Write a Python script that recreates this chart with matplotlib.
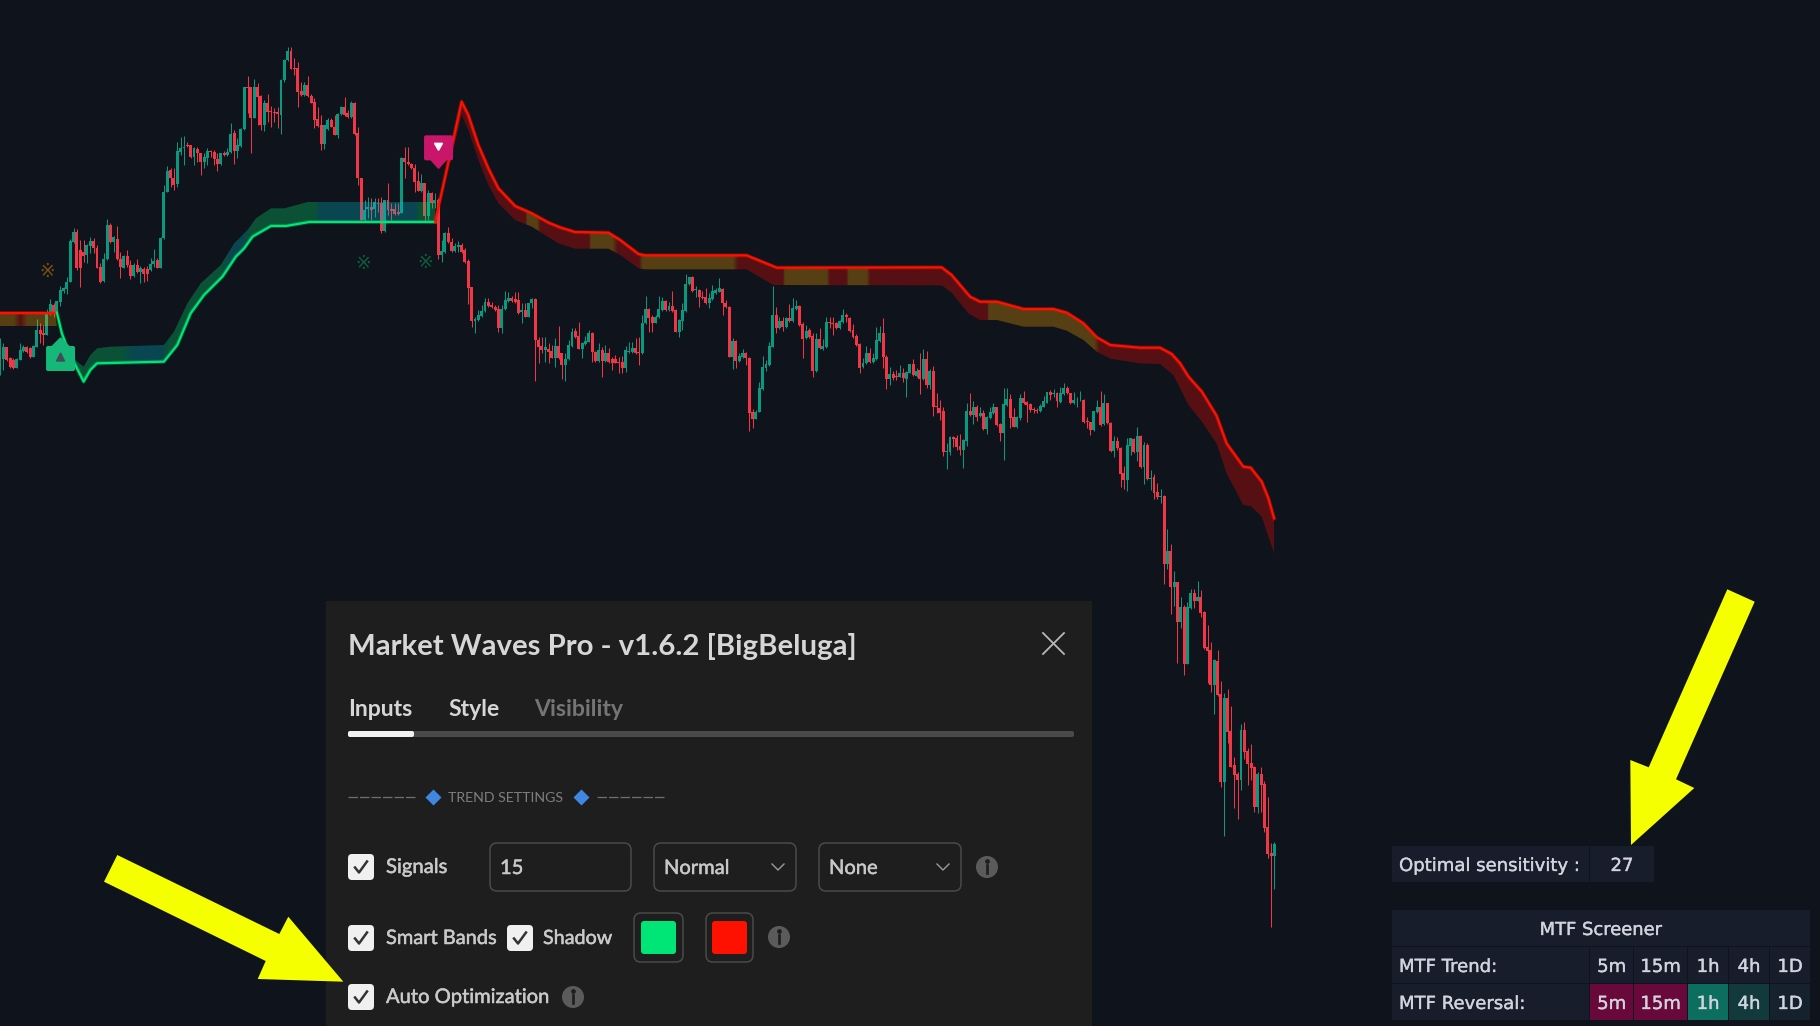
import numpy as np
import matplotlib
matplotlib.use("Agg")
import matplotlib.pyplot as plt
import matplotlib.patheffects as pe
from matplotlib.patches import Polygon, FancyBboxPatch, Rectangle, Circle

BG = "#0f131c"
UP = "#089981"
DOWN = "#f23645"
BAR_PX = 3.345   # width of one bar on screen
LEVEL_PX = 1 / 3  # levels were read at 3x zoom, counted from the top of the picture

# candles: G = rising, R = falling. levels grow downwards
sides = (
    "GGRRRGGGRR" "GGRRGGRGGG" "GGGRRRGGRR" "RGGRGRRGRR" "GRGRRGGRGG"
    "GRRGGGRRGR" "RGGRRRGRGG" "RGGGRRGRRG" "RRRRGGGRRR" "RGRRRRRGGR"
    "RGGRRGRRRG" "GRGRRGRRRR" "GRRRRRGRGR" "GRGGRRGGRR" "RRGGGGRRRR"
    "GGGRRRGRGG" "RRRGRRGRRG" "GGRRGGGRRG" "RGRRRRRGGG" "RRGGRRGGGR"
    "GRRGGGGRGR" "RRGGGGRRRG" "RGGRRRGGGG" "GGRGRGRGGR" "RGRRGRGGRR"
    "RGGRRRRRGG" "RGGG"
    "RRGRRGRGGR" "GRGRGRRRRG" "GRRRGGRGRG" "RGGGRRGGRR" "GGRRRRRGGG"
    "RGRGGRRGGG" "RRRGGRGRRG" "RRRGGRGRGR" "GRRG"
    "RGRGRGRGGR" "GRRRRGRRGR" "RRRGRRRRGR" "RRRG"
)
tops = [
    1040, 1040, 1040, 1075, 1080, 1078, 1050, 1040, 1042, 1045,
    1038, 990, 990, 1000, 940, 912, 915, 902, 870, 865,
    845, 722, 695, 695, 750, 755, 735, 722, 722, 745,
    800, 778, 675, 675, 712, 718, 778, 768, 768, 795,
    795, 795, 805, 808, 808, 792, 782, 780, 715, 577,
    513, 510, 533, 453, 443, 440, 436, 435, 445, 448,
    458, 470, 453, 453, 455, 478, 460, 460, 455, 402,
    398, 435, 388, 262, 262, 262, 262, 262, 288, 308,
    310, 333, 335, 337, 240, 180, 153, 153, 205, 205,
    273, 255, 255, 288, 305, 358, 375, 375, 360, 360,
    380, 342, 322, 322, 340, 310, 308, 400, 535, 630,
    622, 622, 605, 608, 610, 600, 600, 628, 628, 635,
    475, 475, 485, 493, 505, 542, 550, 550, 578, 578,
    600, 600, 753, 700, 700, 725, 738, 735, 735, 750,
    782, 862, 958, 945, 932, 907, 907, 916, 920, 928,
    928, 900, 895, 893, 898, 900, 930, 930, 910, 897,
    897, 1020, 1038, 1040, 1048, 1053, 1038, 1038, 1060, 1078,
    1035, 995, 993, 1008, 1030, 1022, 998, 998, 1055, 1050,
    1050, 1060, 1060, 1078, 1078, 1085, 1085, 1050, 1052, 1045,
    1045, 1055, 970, 927, 927, 952, 950, 928, 902, 902,
    918, 918, 930, 960, 930, 852, 832, 832, 868, 870,
    890, 892, 895, 872, 870, 865, 868, 908, 920, 1023,
    1023, 1068, 1060, 1058, 1075, 1235, 1235, 1165, 1102, 1092,
    1038, 945, 945, 963, 963, 955, 955, 925, 918, 918,
    972, 992, 990, 1008, 1018, 1018, 1038, 965, 965, 968,
    970, 962, 945, 945, 953, 990, 1008, 1032, 1090, 1060,
    1060, 1075, 1020, 998,
    1000, 1070, 1122, 1122, 1128, 1120, 1120, 1115, 1093, 1093,
    1112, 1110, 1077, 1077, 1112, 1112, 1218, 1225, 1233, 1353,
    1310, 1312, 1315, 1338, 1320, 1233, 1233, 1222, 1222, 1240,
    1240, 1252, 1237, 1222, 1222, 1272, 1212, 1197, 1197, 1252,
    1252, 1195, 1195, 1206, 1212, 1228, 1230, 1218, 1203, 1177,
    1175, 1180, 1180, 1180, 1165, 1163, 1180, 1200, 1202, 1199,
    1200, 1264, 1266, 1234, 1222, 1222, 1210, 1210, 1268, 1323,
    1323, 1343, 1420, 1335, 1315, 1317, 1308, 1308, 1335, 1335,
    1433, 1432, 1475, 1488,
    1488, 1653, 1653, 1746, 1746, 1821, 1821, 1821, 1779, 1779,
    1791, 1791, 1836, 1941, 1950, 1980, 1983, 2082, 2094, 2094,
    2193, 2295, 2322, 2190, 2190, 2253, 2289, 2301, 2322, 2322,
    2352, 2481, 2559, 2532,
]
bottoms = [
    1105, 1078, 1080, 1102, 1105, 1105, 1080, 1052, 1055, 1072,
    1070, 1040, 1002, 1005, 1005, 940, 940, 940, 905, 872,
    868, 845, 725, 803, 803, 768, 765, 738, 745, 803,
    845, 842, 778, 725, 725, 778, 802, 803, 795, 828,
    828, 815, 815, 822, 822, 810, 792, 803, 803, 715,
    575, 533, 555, 552, 455, 445, 438, 470, 470, 458,
    487, 487, 475, 455, 478, 492, 492, 466, 465, 455,
    452, 452, 438, 388, 264, 353, 353, 290, 375, 375,
    335, 337, 340, 343, 345, 240, 180, 207, 207, 275,
    285, 285, 288, 308, 360, 377, 432, 432, 388, 380,
    405, 405, 342, 345, 352, 352, 402, 535, 660, 660,
    628, 630, 628, 613, 693, 693, 630, 632, 643, 643,
    638, 485, 493, 505, 545, 572, 572, 647, 647, 608,
    608, 765, 765, 755, 727, 752, 752, 740, 755, 785,
    863, 962, 962, 960, 948, 933, 918, 922, 930, 983,
    983, 928, 903, 902, 905, 940, 935, 950, 950, 910,
    1020, 1040, 1050, 1050, 1055, 1073, 1073, 1075, 1095, 1095,
    1078, 1037, 1012, 1046, 1046, 1032, 1025, 1055, 1082, 1082,
    1082, 1082, 1085, 1088, 1088, 1088, 1105, 1103, 1055, 1055,
    1060, 1060, 1060, 970, 955, 968, 968, 952, 930, 930,
    930, 932, 995, 995, 962, 932, 852, 872, 870, 892,
    895, 910, 908, 898, 880, 875, 910, 922, 1070, 1070,
    1082, 1082, 1072, 1075, 1238, 1257, 1257, 1235, 1168, 1105,
    1095, 1040, 985, 985, 982, 982, 962, 962, 928, 975,
    1017, 1015, 1012, 1112, 1112, 1045, 1048, 1040, 970, 972,
    985, 985, 965, 952, 992, 1012, 1035, 1105, 1102, 1090,
    1085, 1085, 1078, 1022,
    1072, 1138, 1138, 1135, 1132, 1130, 1135, 1138, 1118, 1125,
    1128, 1138, 1137, 1155, 1155, 1220, 1222, 1238, 1355, 1355,
    1355, 1317, 1342, 1350, 1350, 1322, 1245, 1245, 1250, 1248,
    1287, 1287, 1253, 1240, 1275, 1298, 1298, 1215, 1253, 1280,
    1280, 1254, 1210, 1215, 1230, 1230, 1233, 1234, 1220, 1208,
    1185, 1182, 1203, 1205, 1182, 1180, 1208, 1210, 1204, 1201,
    1266, 1266, 1290, 1290, 1236, 1275, 1272, 1270, 1353, 1353,
    1345, 1422, 1440, 1440, 1338, 1355, 1357, 1402, 1402, 1438,
    1437, 1478, 1492, 1490,
    1692, 1692, 1760, 1760, 1865, 1865, 1991, 1991, 1825, 1802,
    1803, 1838, 1943, 1952, 2054, 2054, 2085, 2345, 2345, 2195,
    2300, 2325, 2340, 2340, 2255, 2291, 2304, 2420, 2420, 2355,
    2483, 2561, 2567, 2567,
]
highs = [
    1015, 1030, 1040, 1072, 1075, 1075, 1030, 1035, 1038, 1042,
    1035, 958, 970, 975, 928, 898, 910, 902, 858, 860,
    832, 718, 685, 687, 720, 720, 732, 712, 715, 735,
    790, 760, 658, 670, 708, 678, 755, 765, 750, 780,
    790, 778, 798, 802, 798, 775, 748, 775, 712, 555,
    498, 505, 505, 425, 410, 408, 425, 435, 440, 440,
    458, 460, 445, 450, 450, 460, 458, 452, 445, 370,
    390, 415, 385, 260, 228, 260, 238, 248, 285, 300,
    282, 318, 325, 322, 238, 178, 142, 142, 175, 187,
    245, 245, 228, 282, 295, 322, 345, 375, 355, 355,
    345, 340, 318, 292, 330, 302, 305, 380, 533, 600,
    590, 595, 595, 595, 590, 600, 550, 610, 608, 610,
    470, 440, 442, 488, 492, 512, 522, 548, 570, 575,
    580, 595, 720, 695, 682, 715, 730, 722, 730, 745,
    778, 860, 950, 930, 915, 895, 895, 905, 915, 915,
    915, 872, 875, 888, 875, 875, 910, 908, 908, 895,
    895, 1010, 1010, 1010, 1030, 1035, 1015, 978, 1058, 1060,
    1020, 985, 985, 967, 1025, 1008, 990, 995, 1052, 1030,
    1040, 1035, 1045, 1070, 1065, 1070, 1068, 1038, 1025, 1025,
    1015, 1010, 945, 888, 925, 945, 945, 888, 890, 900,
    905, 873, 928, 958, 908, 822, 830, 828, 858, 868,
    872, 865, 880, 855, 865, 835, 865, 900, 918, 1015,
    1020, 1060, 1048, 1055, 1072, 1228, 1230, 1145, 1068, 1080,
    1025, 858, 922, 950, 952, 950, 912, 895, 900, 915,
    965, 975, 985, 998, 1000, 985, 1018, 952, 950, 952,
    965, 960, 928, 938, 950, 972, 1002, 1030, 1075, 1038,
    1045, 1060, 980, 978,
    955, 1065, 1102, 1112, 1110, 1095, 1105, 1112, 1092, 1078,
    1105, 1058, 1047, 1053, 1108, 1098, 1180, 1200, 1222, 1328,
    1308, 1308, 1305, 1302, 1318, 1210, 1180, 1202, 1215, 1220,
    1230, 1248, 1220, 1208, 1220, 1270, 1165, 1165, 1182, 1225,
    1248, 1182, 1173, 1202, 1210, 1222, 1225, 1212, 1188, 1175,
    1170, 1168, 1175, 1162, 1150, 1158, 1178, 1175, 1192, 1173,
    1198, 1250, 1265, 1232, 1200, 1173, 1182, 1208, 1266, 1308,
    1310, 1340, 1398, 1315, 1313, 1315, 1282, 1306, 1325, 1328,
    1410, 1422, 1448, 1466,
    1485, 1588, 1632, 1713, 1746, 1792, 1815, 1806, 1768, 1768,
    1743, 1770, 1833, 1875, 1926, 1977, 1950, 2043, 2079, 2067,
    2118, 2271, 2316, 2172, 2166, 2244, 2232, 2298, 2316, 2301,
    2343, 2391, 2529, 2526,
]
lows = [
    1125, 1110, 1082, 1105, 1106, 1105, 1080, 1055, 1060, 1075,
    1072, 1042, 1030, 1035, 1005, 945, 950, 942, 918, 880,
    882, 847, 730, 810, 860, 785, 790, 760, 760, 805,
    848, 845, 780, 730, 755, 780, 835, 805, 802, 838,
    830, 820, 850, 845, 842, 812, 802, 805, 805, 718,
    577, 560, 570, 560, 465, 495, 440, 475, 495, 485,
    525, 505, 495, 470, 495, 512, 494, 468, 467, 458,
    492, 475, 440, 390, 340, 458, 355, 375, 390, 392,
    365, 382, 365, 385, 402, 245, 182, 207, 225, 320,
    287, 288, 290, 310, 385, 380, 450, 448, 390, 382,
    405, 415, 345, 348, 355, 355, 405, 555, 662, 662,
    655, 660, 650, 635, 698, 695, 645, 660, 645, 645,
    640, 533, 495, 508, 575, 573, 575, 662, 660, 625,
    623, 778, 785, 758, 730, 755, 755, 755, 758, 788,
    912, 980, 998, 962, 950, 935, 920, 925, 932, 995,
    998, 930, 905, 905, 908, 942, 968, 952, 952, 925,
    1142, 1088, 1060, 1085, 1088, 1075, 1100, 1078, 1137, 1142,
    1080, 1040, 1015, 1048, 1075, 1035, 1027, 1085, 1085, 1085,
    1130, 1085, 1088, 1110, 1090, 1118, 1118, 1115, 1058, 1058,
    1062, 1095, 1062, 972, 995, 995, 970, 954, 932, 932,
    932, 935, 997, 1012, 990, 935, 855, 875, 890, 920,
    898, 912, 925, 900, 882, 877, 945, 925, 1072, 1107,
    1105, 1085, 1075, 1095, 1292, 1283, 1258, 1237, 1170, 1112,
    1097, 1042, 998, 988, 992, 985, 965, 965, 930, 978,
    1073, 1018, 1015, 1130, 1115, 1048, 1050, 1045, 985, 1005,
    988, 988, 968, 965, 995, 1015, 1038, 1120, 1105, 1092,
    1088, 1088, 1080, 1025,
    1105, 1168, 1155, 1140, 1140, 1132, 1145, 1190, 1120, 1128,
    1130, 1182, 1140, 1165, 1168, 1248, 1240, 1260, 1368, 1406,
    1365, 1340, 1350, 1365, 1403, 1338, 1247, 1272, 1263, 1250,
    1290, 1302, 1256, 1242, 1278, 1322, 1380, 1217, 1283, 1282,
    1283, 1260, 1212, 1265, 1235, 1238, 1240, 1236, 1222, 1210,
    1200, 1192, 1220, 1208, 1184, 1182, 1212, 1212, 1220, 1203,
    1268, 1285, 1305, 1292, 1238, 1277, 1275, 1272, 1356, 1370,
    1350, 1460, 1468, 1472, 1365, 1358, 1382, 1405, 1452, 1440,
    1470, 1498, 1498, 1508,
    1752, 1706, 1842, 1817, 1988, 1883, 2024, 1993, 1827, 1823,
    1803, 1851, 1947, 2048, 2075, 2141, 2087, 2360, 2507, 2228,
    2302, 2423, 2456, 2369, 2276, 2354, 2339, 2435, 2438, 2435,
    2495, 2573, 2780, 2666,
]

# wave bands
left_line_x = [0, 16.5]
left_line_y = [938, 938]
left_far_x = [0, 17]
left_far_y = [978, 978]

bull_line_x = [17, 18.5, 20, 22.5, 25, 27, 29, 49, 53, 57, 61, 66.5, 70.5, 73, 75.5, 81, 85.5, 92.5, 130.1]
bull_line_y = [938, 1000, 1040, 1095, 1145, 1110, 1090, 1085, 1035, 940, 885, 830, 770, 745, 710, 678, 678, 666, 666]
bull_far_x = [17, 18.5, 20, 22.5, 25, 27, 29, 33, 49, 52, 56, 60, 66, 70, 74, 76.5, 81, 85, 92, 130.1]
bull_far_y = [938, 1015, 1040, 1080, 1100, 1065, 1045, 1040, 1035, 995, 910, 850, 795, 730, 690, 655, 625, 625, 606, 606]

bear_line_x = [130.1, 138, 140, 143, 146, 149, 154, 159, 164, 167.4, 171.9, 181.9, 185.4, 190.9, 192.8, 223.2,
               232.2, 281.5, 284.5, 290, 293, 298, 306, 314.9, 318.9, 323.9, 327.9, 331.9, 340.8, 346.8, 350.3,
               352.8, 355.3, 359.3, 363.7, 366.7, 371.7, 373.9, 377.2, 379.2, 380.9]
bear_line_y = [666, 305, 345, 435, 505, 565, 618, 640, 668, 682, 696, 698, 720, 762, 766, 766,
               803, 802, 825, 890, 905, 905, 927, 927, 938, 970, 1012, 1035, 1043, 1043, 1062,
               1090, 1130, 1175, 1247, 1330, 1400, 1403, 1445, 1495, 1555]
bear_far_x = [130.1, 132.6, 138, 140, 143, 146, 149, 154, 159, 166.9, 171.9, 181.9, 185.4, 190.9, 192.8, 223.2,
              231.2, 281.5, 284.5, 289.5, 293, 298, 306, 314.9, 318.9, 323.9, 327.9, 331.9, 340.8, 346.8, 350.8,
              355.3, 359.3, 363.7, 366.7, 371.7, 373.9, 377.2, 379.2, 380.9]
bear_far_y = [666, 570, 345, 390, 480, 555, 610, 660, 680, 730, 746, 746, 765, 805, 808, 808,
              855, 856, 878, 940, 960, 960, 980, 980, 992, 1020, 1055, 1076, 1090, 1092, 1125,
              1215, 1265, 1330, 1420, 1515, 1518, 1550, 1610, 1660]

BAND_RGB = {
    "green": (0, 230, 118),
    "teal": (0, 188, 212),
    "red": (255, 10, 0),
    "amber": (255, 170, 0),
}
left_stops = [0, 4, 6, 8, 11, 17]
left_tones = ["amber", "amber", "red", "amber", "amber", "amber"]
bull_stops = [17, 36, 40, 48, 50, 66, 69, 72, 75, 94, 95.5, 124, 125, 130.1]
bull_tones = ["green", "green", "teal", "teal", "green", "green", "teal", "teal", "green",
              "green", "teal", "teal", "green", "green"]
bear_stops = [130.1, 157, 157.6, 160.5, 161.5, 176, 176.6, 183, 184.5, 191, 192, 219, 220.5, 234, 234.5,
              247, 248, 253, 253.5, 259, 260, 295, 295.5, 327, 328.5, 381]
bear_tones = ["red", "red", "amber", "amber", "red", "red", "amber", "amber", "red", "red", "amber", "amber",
              "red", "red", "amber", "amber", "red", "red", "amber", "amber", "red", "red", "amber", "amber",
              "red", "red"]

cross_bars = [14, 108.5, 127]
cross_levels = [815, 790, 787]
cross_colors = ["#7a4f14", "#0c5f3e", "#0c5f3e"]

# screener table
tf_labels = ["5m", "15m", "1h", "4h", "1D"]
reversal_colors = ["#69083a", "#69083a", "#0b6e5e", "#123a3c", "#15222e"]


def draw_band(ax, line_x, line_y, far_x, far_y, stops, tones):
    xy = np.column_stack([line_x + far_x[::-1], line_y + far_y[::-1]])
    grid = np.arange(stops[0], stops[-1], 0.25)
    rgb = np.array([BAND_RGB[t] for t in tones]) / 255
    row = np.ones((1, len(grid), 4)) * 0.3
    for c in range(3):
        row[0, :, c] = np.interp(grid, stops, rgb[:, c])
    im = ax.imshow(row, extent=(stops[0], stops[-1], 1, 0), aspect="auto", zorder=3)
    im.set_extent((stops[0], stops[-1], xy[:, 1].max(), xy[:, 1].min()))
    im.set_clip_path(Polygon(xy, closed=True, transform=ax.transData))


def draw_signal(ui, bar, level, color, glyph, up):
    # badge with a little tip, tip sits on the signal level
    cx = bar * BAR_PX
    tip = level * LEVEL_PX
    if up:
        box_y = tip + 8
        ui.add_patch(Polygon([[cx - 9, box_y + 1], [cx, tip], [cx + 9, box_y + 1]], color=color, zorder=6))
        tri = [[cx - 4, box_y + 15], [cx + 4, box_y + 15], [cx, box_y + 7]]
    else:
        box_y = tip - 8 - 25
        ui.add_patch(Polygon([[cx - 8, box_y + 24], [cx, tip], [cx + 8, box_y + 24]], color=color, zorder=6))
        tri = [[cx - 4, box_y + 8], [cx + 4, box_y + 8], [cx, box_y + 15]]
    ui.add_patch(FancyBboxPatch((cx - 14.5, box_y), 29, 25, boxstyle="round,pad=0,rounding_size=2",
                                fc=color, ec="none", zorder=6))
    ui.add_patch(Polygon(tri, color=glyph, zorder=7))


def box(ui, x0, y0, x1, y1, fc="none", ec="none", r=4, lw=1.0, z=11):
    ui.add_patch(FancyBboxPatch((x0, y0), x1 - x0, y1 - y0, boxstyle=f"round,pad=0,rounding_size={r}",
                                fc=fc, ec=ec, lw=lw, zorder=z))


def label(ui, x, y, s, size=12.5, color="#c9c9c9", weight="normal", ha="left", family="Lato", heavy=0.35):
    t = ui.text(x, y, s, fontsize=size, color=color, fontweight=weight, ha=ha, va="center_baseline",
                family=family, zorder=13)
    if heavy:
        # the screenshot text is a bit fatter than the plain regular cut
        t.set_path_effects([pe.withStroke(linewidth=heavy, foreground=color)])


def checkbox(ui, x0, y0):
    box(ui, x0, y0, x0 + 26, y0 + 26, fc="#f0f0f0", r=4, z=12)
    ui.plot([x0 + 7, x0 + 11, x0 + 19], [y0 + 13.5, y0 + 18.5, y0 + 7.5], color="#333333", lw=1.8, zorder=13)


def info(ui, x, y):
    ui.add_patch(Circle((x, y), 11, fc="#5b5b5b", ec="none", zorder=12))
    ui.plot([x, x], [y - 2, y + 6], color="#1e1e1e", lw=1.9, zorder=13)
    ui.plot([x], [y - 6], marker="o", ms=2.4, color="#1e1e1e", zorder=13)


def dropdown(ui, x0, x1, y0, y1, s, arrow=True):
    box(ui, x0, y0, x1, y1, ec="#4a4a4a", r=7, lw=1.1, z=12)
    label(ui, x0 + 10, (y0 + y1) / 2, s, size=14.5, color="#c8c8c8")
    if arrow:
        cx = x1 - 18
        cy = (y0 + y1) / 2
        ui.plot([cx - 6, cx, cx + 6], [cy - 3, cy + 3, cy - 3], color="#9a9a9a", lw=1.0, zorder=13)


fig = plt.figure(figsize=(18.2, 10.26), dpi=100, facecolor=BG)
ax = fig.add_axes([0, 0, 1, 1], facecolor=BG)
ui = fig.add_axes([0, 0, 1, 1], facecolor="none")
ui.set_xlim(0, 1820)
ui.set_ylim(1026, 0)
ui.axis("off")

bars = np.arange(len(sides))
colors = [UP if s == "G" else DOWN for s in sides]
tops_a = np.array(tops)
bottoms_a = np.array(bottoms)
ax.vlines(bars, highs, lows, colors=colors, linewidth=0.72, zorder=2)
ax.bar(bars, np.maximum(bottoms_a - tops_a, 2), bottom=tops_a, width=0.88, color=colors, linewidth=0, zorder=2)

draw_band(ax, left_line_x, left_line_y, left_far_x, left_far_y, left_stops, left_tones)
draw_band(ax, bull_line_x, bull_line_y, bull_far_x, bull_far_y, bull_stops, bull_tones)
draw_band(ax, bear_line_x, bear_line_y, bear_far_x, bear_far_y, bear_stops, bear_tones)

# soft halo under the lines, the wave lines glow slightly
ax.plot(left_line_x, left_line_y, color="#ff1100", lw=3, alpha=0.3, zorder=4)
ax.plot(bull_line_x, bull_line_y, color="#00e676", lw=3, alpha=0.25, zorder=4)
ax.plot(bear_line_x, bear_line_y, color="#ff1100", lw=3, alpha=0.3, zorder=4)
ax.plot(left_line_x, left_line_y, color="#ff1100", lw=1.6, zorder=4)
ax.plot(bull_line_x, bull_line_y, color="#00e676", lw=1.6, zorder=4)
ax.plot(bear_line_x, bear_line_y, color="#ff1100", lw=1.6, zorder=4)

for b, lv, c in zip(cross_bars, cross_levels, cross_colors):
    ax.text(b, lv, "\u203b", color=c, fontsize=13.5, ha="center", va="center", zorder=3)

ax.set_xlim(0, 1820 / BAR_PX)
ax.set_ylim(1026 / LEVEL_PX, 0)
ax.axis("off")

draw_signal(ui, 18.1, 1014, "#16b87a", "#454b57", True)
draw_signal(ui, 131.1, 505, "#c9166a", "#ffffff", False)

# settings dialog
ui.add_patch(Rectangle((326, 601), 766, 425, fc="#1e1e1e", ec="none", zorder=10))
label(ui, 348, 644, "Market Waves Pro - v1.6.2 [BigBeluga]", size=21.2, weight="bold", color="#d6d6d6", heavy=0)
ui.plot([1043, 1064], [633, 654], color="#b8b8b8", lw=1.3, zorder=13)
ui.plot([1043, 1064], [654, 633], color="#b8b8b8", lw=1.3, zorder=13)
label(ui, 348, 708, "Inputs", size=16.6, weight="bold", color="#d6d6d6", heavy=0)
label(ui, 448, 708, "Style", size=16.6, weight="bold", color="#d6d6d6", heavy=0)
label(ui, 534, 708, "Visibility", size=16.6, weight="bold", color="#757575", heavy=0)
box(ui, 348, 731, 1074, 737, fc="#4a4a4a", r=2)
box(ui, 348, 731, 414, 737, fc="#f2f2f2", r=2, z=12)

ui.plot([348, 417], [797, 797], color="#6f6f6f", lw=0.9, ls=(0, (7.6, 1.6)), zorder=13)
ui.plot([597, 665], [797, 797], color="#6f6f6f", lw=0.9, ls=(0, (7.6, 1.6)), zorder=13)
ui.plot([433, 581], [797, 797], ls="none", marker="D", ms=8, mfc="#3f87e0", mec="none", zorder=13)
label(ui, 448, 797, "TREND SETTINGS", size=10.2, color="#7e7e7e", heavy=0)

checkbox(ui, 348, 854)
label(ui, 386, 866, "Signals", size=14.6)
dropdown(ui, 490, 631, 843, 891, "15", arrow=False)
dropdown(ui, 654, 796, 843, 891, "Normal")
dropdown(ui, 819, 961, 843, 891, "None")
info(ui, 987, 867)

checkbox(ui, 348, 925)
label(ui, 386, 937, "Smart Bands", size=14.4)
checkbox(ui, 507, 925)
label(ui, 543, 937, "Shadow", size=14.2)
box(ui, 634, 913, 683, 962, fc="#1e1e1e", ec="#4a4a4a", r=7, lw=1.1, z=12)
box(ui, 641, 921, 676, 954, fc="#00e676", r=3, z=13)
box(ui, 706, 913, 753, 962, fc="#1e1e1e", ec="#4a4a4a", r=7, lw=1.1, z=12)
box(ui, 712, 921, 747, 954, fc="#ff1100", r=3, z=13)
info(ui, 779, 937)

checkbox(ui, 348, 984)
label(ui, 386, 996, "Auto Optimization", size=14.5)
info(ui, 573, 997)

# arrows
ui.add_patch(Polygon([[117.3, 855], [104, 881.7], [265.7, 961], [257.7, 979], [343.3, 981.7],
                      [288.3, 916.7], [279.3, 934]], color="#f5ff00", lw=0, zorder=20))
ui.add_patch(Polygon([[1727.3, 589.3], [1754.7, 601.7], [1676, 779.3], [1694.3, 788], [1631, 845],
                      [1630.3, 760], [1648.7, 767.3]], color="#f5ff00", lw=0, zorder=20))

# tables on the right
CELL = "#181d2b"
TXT = "#d1d4dc"
ui.add_patch(Rectangle((1392, 846), 197, 36, fc=CELL, ec="none"))
ui.add_patch(Rectangle((1590, 846), 64, 36, fc=CELL, ec="none"))
label(ui, 1399, 864, "Optimal sensitivity :", size=13, color=TXT, family="DejaVu Sans", heavy=0.25)
label(ui, 1622, 864, "27", size=13, color=TXT, ha="center", family="DejaVu Sans", heavy=0.25)

ui.add_patch(Rectangle((1392, 910), 418, 36, fc=CELL, ec="none"))
label(ui, 1601, 928, "MTF Screener", size=12.9, color=TXT, ha="center", family="DejaVu Sans", heavy=0.25)
cols = [(1590, 1633.3), (1634.3, 1686.7), (1688, 1728), (1729, 1769), (1770, 1810)]
for y0, row_name, fills in [(947, "MTF Trend:", [CELL] * 5), (984, "MTF Reversal:", reversal_colors)]:
    ui.add_patch(Rectangle((1392, y0), 197, 36, fc=CELL, ec="none"))
    label(ui, 1399, y0 + 18, row_name, size=13, color=TXT, family="DejaVu Sans", heavy=0.25)
    for (x0, x1), tf, fill in zip(cols, tf_labels, fills):
        ui.add_patch(Rectangle((x0, y0), x1 - x0, 36, fc=fill, ec="none"))
        label(ui, (x0 + x1) / 2, y0 + 18, tf, size=13, color=TXT, ha="center", family="DejaVu Sans", heavy=0.25)

fig.savefig("out.png", dpi=100, facecolor=BG)
